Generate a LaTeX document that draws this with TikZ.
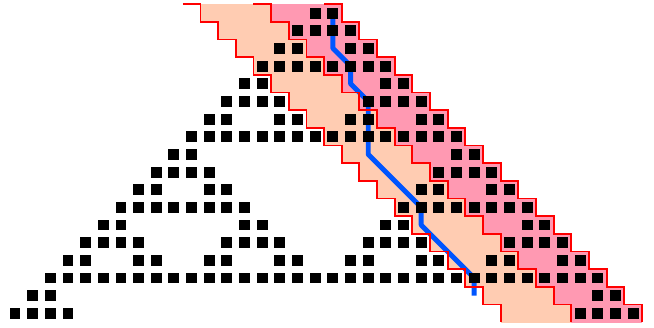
\documentclass[tikz,border=0pt]{standalone}
\usepackage{xcolor}
\usepackage{tikz}
\definecolor{peach}{RGB}{255,204,178}
\definecolor{rose}{RGB}{255,153,178}
\definecolor{walkblue}{RGB}{0,85,255}

\begin{document}
\begin{tikzpicture}[x=0.5cm, y=-0.5cm,
  cell/.style={fill=black},
  stair/.style={draw=red, line width=1.5pt},
  walk/.style={draw=walkblue, line width=4pt, line join=round}
]
  \useasboundingbox (-0.35,-0.24) rectangle (36.68,18.28);
  % bands
  \foreach \r in {0,...,17}{
    \fill[peach] ({11+\r},\r) rectangle ({15+\r},{\r+1.02});
    \fill[rose]  ({15+\r},\r) rectangle ({19+\r},{\r+1.02});
  }
  % path through the band
  \draw[walk] (18.5,0.5) -- (18.5,2.5) -- (19.5,3.5) -- (19.5,4.5) -- (20.5,5.5)
    -- (20.5,8.5) -- (23.5,11.5) -- (23.5,12.5) -- (26.5,15.5) -- (26.5,16.5);
  % cells: row r, pair k is on when C(r,k) is odd
  \foreach \r in {0,...,17}
    \foreach \k in {0,...,\r}{
      \pgfmathtruncatemacro\clash{mod(\k,2)*(1-mod(\r,2))
        + mod(floor(\k/2),2)*(1-mod(floor(\r/2),2))
        + mod(floor(\k/4),2)*(1-mod(floor(\r/4),2))
        + mod(floor(\k/8),2)*(1-mod(floor(\r/8),2))
        + mod(floor(\k/16),2)*(1-mod(floor(\r/16),2))}
      \ifnum\clash=0
        \fill[cell] ({17-\r+2*\k+0.19},{\r+0.19}) rectangle +(0.62,0.62);
        \fill[cell] ({18-\r+2*\k+0.19},{\r+0.19}) rectangle +(0.62,0.62);
      \fi
    }
  % staircase edges
  \foreach \a in {11,15,19}
    \draw[stair] ({\a-1},0) \foreach \r in {0,...,17}{ -- ({\a+\r},\r) -- ({\a+\r},{\r+1}) };
\end{tikzpicture}
\end{document}
